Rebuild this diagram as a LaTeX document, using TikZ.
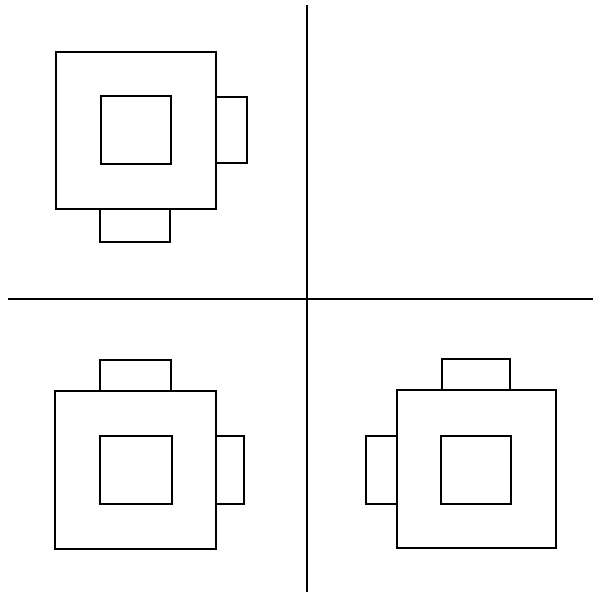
\documentclass[tikz,border=0pt]{standalone}
\usepackage{tikz}

\tikzset{
  wall/.style={draw=black, line width=1.4pt, line join=miter},
  axis/.style={draw=black, line width=1.5pt}
}

\begin{document}
\begin{tikzpicture}[x=1pt, y=-1pt]
    \useasboundingbox (0,0) rectangle (595,594);

    % Quadrant lines
    \draw[axis] (307,5) -- (307,592);
    \draw[axis] (8,299) -- (593,299);

    % Upper left: tabs right and below
    \draw[wall] (56,52) rectangle (216,209);
    \draw[wall] (101,96) rectangle (171,164);
    \draw[wall] (216,97) -- (247,97) -- (247,163) -- (216,163);
    \draw[wall] (100,209) -- (100,242) -- (170,242) -- (170,209);

    % Lower left: tabs above and right
    \draw[wall] (55,391) rectangle (216,549);
    \draw[wall] (100,436) rectangle (172,504);
    \draw[wall] (100,391) -- (100,360) -- (171,360) -- (171,391);
    \draw[wall] (216,436) -- (244,436) -- (244,504) -- (216,504);

    % Lower right: tabs above and left
    \draw[wall] (397,390) rectangle (556,548);
    \draw[wall] (441,436) rectangle (511,504);
    \draw[wall] (442,390) -- (442,359) -- (510,359) -- (510,390);
    \draw[wall] (397,436) -- (366,436) -- (366,504) -- (397,504);
  \end{tikzpicture}
\end{document}
